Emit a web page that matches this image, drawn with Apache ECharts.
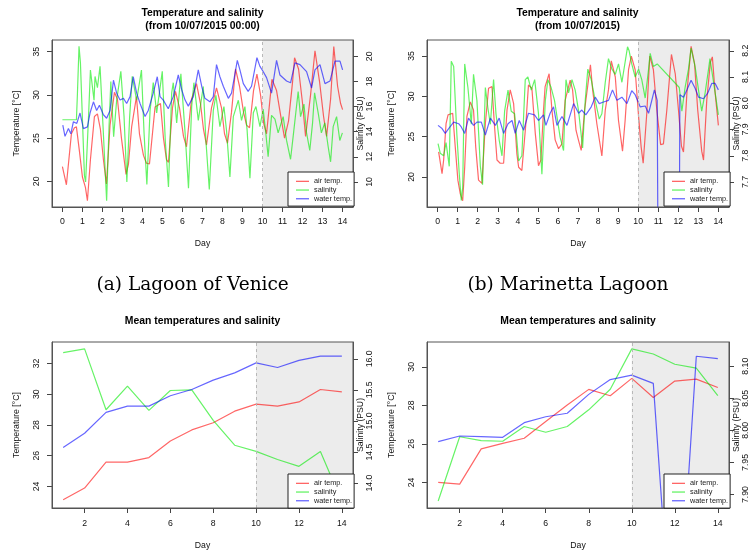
<!DOCTYPE html>
<html><head><meta charset="utf-8">
<script src="https://cdn.jsdelivr.net/npm/echarts@6/dist/echarts.min.js"></script>
<style>html,body{margin:0;padding:0;background:#fff}#c{width:753px;height:554px}</style>
</head><body><div id="c"></div>
<script>
// ---------- data ----------
const seriesNames = ['air temp.', 'salinity', 'water temp.'];
const topDayTicks = [0,1,2,3,4,5,6,7,8,9,10,11,12,13,14];
const bottomDayTicks = [2,4,6,8,10,12,14];
const veniceTempTicks = [20,25,30,35];
const veniceSalTicks = [10,12,14,16,18,20];
const marTempTicks = [20,25,30,35];
const marSalTicks = [7.7,7.8,7.9,8.0,8.1,8.2];
const venMeanTempTicks = [24,26,28,30,32];
const venMeanSalTicks = [14.0,14.5,15.0,15.5,16.0];
const marMeanTempTicks = [24,26,28,30];
const marMeanSalTicks = [7.90,7.95,8.00,8.05,8.10];
const meanDays = [1,2,3,4,5,6,7,8,9,10,11,12,13,14];

// (a) Lagoon of Venice, [day, value]
const veniceAir = [[0.0,21.7],[0.2,19.6],[0.45,25.5],[0.6,26.2],[0.7,26.3],[0.85,23.5],[1.0,20.5],[1.15,19.3],[1.25,17.75],[1.4,22.5],[1.6,27.5],[1.75,27.8],[1.9,26],[2.05,22.5],[2.2,19.7],[2.38,26.5],[2.6,30.3],[2.75,29.5],[2.95,25],[3.18,20.8],[3.3,22],[3.46,26.3],[3.7,29.8],[3.85,25.5],[4.05,23],[4.2,22.1],[4.35,22],[4.63,28.6],[4.9,29],[5.05,25],[5.2,22.5],[5.3,22.2],[5.5,28.5],[5.65,30.4],[5.85,28.5],[6.05,25.2],[6.2,24],[6.45,29.5],[6.7,31.3],[6.9,29],[7.05,26],[7.2,24.2],[7.45,28.5],[7.7,30.8],[7.95,28.5],[8.1,25.5],[8.25,24.4],[8.45,28],[8.65,33],[8.85,31],[9.05,28],[9.2,26.5],[9.35,26.2],[9.55,30.5],[9.72,32.4],[9.9,30],[10.05,26.8],[10.2,25.5],[10.33,28.5],[10.47,31.8],[10.7,30.5],[10.95,27],[11.1,25],[11.3,27],[11.5,31.5],[11.6,34.3],[11.8,33],[12.0,29],[12.15,25.2],[12.4,30],[12.62,35.1],[12.85,31.5],[13.05,27.5],[13.2,25.2],[13.4,29.5],[13.56,35.6],[13.75,31],[13.9,29],[14.0,28.3]];
const veniceSal = [[0,14.95],[0.7,14.95],[0.75,17],[0.83,20.8],[0.9,19.5],[1.0,15],[1.1,10.5],[1.16,10.0],[1.3,15],[1.4,18.9],[1.46,19.0],[1.58,16.5],[1.63,18.4],[1.75,17.5],[1.88,19.2],[2.04,14.1],[2.21,8.5],[2.33,14.4],[2.42,18.0],[2.56,13.6],[2.71,16.5],[2.92,18.8],[3.08,15.2],[3.22,10.0],[3.36,15.2],[3.49,18.4],[3.71,16.5],[3.95,18.9],[4.08,13.9],[4.22,9.8],[4.38,15.7],[4.54,17.9],[4.71,15.5],[4.99,18.8],[5.14,13.3],[5.3,9.6],[5.46,17.1],[5.54,17.9],[5.71,14.7],[5.92,18.6],[6.13,13.9],[6.3,9.5],[6.46,16.0],[6.57,17.9],[6.79,14.9],[7.04,17.6],[7.17,13.3],[7.34,9.4],[7.54,15.7],[7.67,16.9],[7.87,14.4],[8.07,16.0],[8.2,14.1],[8.37,10.4],[8.54,15.2],[8.79,16.5],[8.95,14.9],[9.12,16.0],[9.23,14.1],[9.37,10.3],[9.54,15.5],[9.67,16.0],[9.87,14.4],[10.03,15.8],[10.15,14.1],[10.28,12.0],[10.45,15.3],[10.62,15.0],[10.78,13.9],[11.03,15.2],[11.2,13.3],[11.4,11.8],[11.55,13.9],[11.78,17.2],[11.9,15.2],[12.07,16.2],[12.2,13.9],[12.36,12.5],[12.5,14.7],[12.6,17.1],[12.78,15.5],[12.94,13.9],[13.11,14.7],[13.28,12.8],[13.4,11.6],[13.53,14.4],[13.7,15.2],[13.86,13.3],[13.99,13.9]];
const veniceWater = [[0.02,26.5],[0.13,25.2],[0.3,26.1],[0.42,25.5],[0.55,26.9],[0.72,26.7],[0.88,27.9],[1.05,26.1],[1.25,26.3],[1.38,27.9],[1.55,29.2],[1.71,28.2],[1.85,28.8],[2.05,27.7],[2.21,27.3],[2.38,28.2],[2.55,31.7],[2.71,30.2],[2.88,29.4],[3.05,29.6],[3.21,29.0],[3.38,29.8],[3.54,32.1],[3.71,30.2],[3.88,29.0],[4.13,27.5],[4.29,28.2],[4.54,30.2],[4.74,32.1],[4.88,29.8],[5.04,29.4],[5.29,28.4],[5.54,29.8],[5.79,32.3],[5.96,30.6],[6.13,29.4],[6.29,28.7],[6.54,29.8],[6.79,32.9],[6.96,31.0],[7.12,29.6],[7.37,29.2],[7.54,29.8],[7.7,33.5],[7.87,32.1],[8.04,31.0],[8.29,29.6],[8.45,30.2],[8.74,34.0],[8.87,32.9],[9.04,31.3],[9.28,30.4],[9.45,31.0],[9.72,34.3],[9.87,33.3],[10.03,32.7],[10.2,32.0],[10.45,30.2],[10.7,34.0],[10.87,32.3],[11.2,31.6],[11.4,31.4],[11.62,33.7],[11.87,33.5],[12.2,32.7],[12.45,30.8],[12.62,32.9],[12.87,33.5],[13.12,31.3],[13.37,31.6],[13.62,33.9],[13.87,33.9],[14.0,32.9]];

// (b) Marinetta Lagoon, [day, value]
const marAir = [[0.05,23.1],[0.22,20.4],[0.3,22.1],[0.42,26.6],[0.52,27.7],[0.75,27.9],[0.88,23.7],[1.01,19.6],[1.13,17.9],[1.25,17.05],[1.35,21.2],[1.46,27.5],[1.63,29.3],[1.79,28.3],[1.9,23.7],[2.04,19.6],[2.21,19.2],[2.38,26.6],[2.54,31.0],[2.71,31.2],[2.84,26.2],[2.96,22.1],[3.12,21.7],[3.29,21.7],[3.46,28.3],[3.62,30.8],[3.79,29.1],[3.95,22.9],[4.04,21.2],[4.2,20.8],[4.4,26.6],[4.53,31.4],[4.7,31.0],[4.87,25.4],[5.03,21.4],[5.15,22.1],[5.28,28.3],[5.36,31.2],[5.56,32.8],[5.7,28.3],[5.86,24.6],[6.03,23.5],[6.2,24.1],[6.36,29.5],[6.61,32.0],[6.73,30.8],[6.9,25.8],[7.02,24.6],[7.16,23.3],[7.33,28.3],[7.62,33.9],[7.73,30.8],[7.94,26.6],[8.19,22.6],[8.36,28.3],[8.52,30.8],[8.66,34.4],[8.86,32.4],[9.02,27.0],[9.22,23.2],[9.35,27.0],[9.52,33.3],[9.66,35.0],[9.85,33.3],[10.02,27.5],[10.15,23.7],[10.25,21.7],[10.43,27.9],[10.58,35.0],[10.76,33.3],[10.93,28.3],[11.12,24.0],[11.26,24.1],[11.43,28.3],[11.66,35.2],[11.85,32.8],[12.01,28.3],[12.16,23.8],[12.26,23.1],[12.43,30.4],[12.64,36.2],[12.81,34.1],[12.97,28.3],[13.17,23.2],[13.26,22.1],[13.42,29.5],[13.6,34.2],[13.7,34.9],[13.84,30.4],[14.0,26.4]];
const marSal = [[0.02,7.846],[0.13,7.81],[0.3,7.80],[0.42,7.85],[0.58,7.76],[0.68,8.16],[0.8,8.14],[0.96,7.88],[1.08,7.73],[1.18,7.63],[1.25,7.68],[1.35,8.15],[1.51,8.06],[1.68,7.92],[1.79,8.11],[1.96,8.01],[2.13,7.76],[2.24,7.69],[2.38,8.06],[2.51,7.98],[2.63,7.92],[2.79,8.09],[2.91,7.96],[3.07,7.86],[3.21,7.80],[3.34,7.97],[3.51,8.05],[3.67,7.97],[3.84,7.96],[4.04,7.78],[4.2,7.80],[4.37,8.09],[4.5,8.1],[4.67,8.05],[4.84,8.09],[5.03,7.96],[5.2,7.73],[5.37,8.01],[5.5,8.09],[5.66,8.06],[5.83,8.01],[5.95,7.95],[6.11,7.87],[6.28,7.82],[6.4,8.09],[6.53,8.04],[6.7,8.09],[6.86,8.05],[7.03,7.97],[7.23,7.83],[7.36,8.01],[7.49,8.13],[7.66,8.09],[7.86,8.01],[8.06,7.94],[8.19,7.96],[8.36,8.08],[8.52,8.17],[8.69,8.13],[8.86,8.11],[9.02,8.15],[9.19,8.08],[9.47,8.215],[9.55,8.2],[9.68,8.15],[9.85,8.1],[10.02,8.13],[10.18,8.09],[10.35,8.02],[10.52,8.13],[10.6,8.19],[10.76,8.14],[10.95,8.15],[12.05,8.06],[12.18,7.97],[12.34,8.06],[12.51,8.13],[12.64,8.21],[12.84,8.14],[13.01,8.05],[13.17,7.97],[13.34,8.04],[13.51,8.13],[13.58,8.17],[13.84,8.04],[14.0,7.956]];
const marWater = [[0.02,26.4],[0.22,26.0],[0.38,25.4],[0.55,26.0],[0.8,26.8],[1.05,26.6],[1.18,26.2],[1.35,25.4],[1.54,27.3],[1.79,26.4],[1.96,26.8],[2.18,26.8],[2.38,25.2],[2.63,27.3],[2.88,26.4],[3.07,27.3],[3.29,25.4],[3.51,26.6],[3.71,27.0],[3.87,25.4],[4.07,27.0],[4.29,25.8],[4.53,27.9],[4.83,27.7],[5.03,27.0],[5.28,27.7],[5.4,26.4],[5.61,27.9],[5.78,28.7],[5.95,26.4],[6.2,27.5],[6.45,26.4],[6.78,29.1],[7.03,27.9],[7.19,28.3],[7.39,27.7],[7.66,28.7],[7.86,29.9],[8.06,29.1],[8.27,29.3],[8.52,29.5],[8.72,30.8],[8.94,29.5],[9.19,29.9],[9.44,29.1],[9.68,30.7],[9.85,30.2],[10.1,28.7],[10.35,28.8],[10.52,27.9],[10.81,30.8],[10.95,29.5],[11.0,5],[12.04,5],[12.08,30.2],[12.26,29.9],[12.43,30.8],[12.64,32.0],[12.84,31.0],[13.01,29.9],[13.26,29.7],[13.47,30.4],[13.67,31.6],[13.84,31.6],[14.0,30.8]];

// (c) mean values, Lagoon of Venice
const venMeanAir = [23.14,23.9,25.58,25.58,25.88,26.96,27.68,28.15,28.9,29.36,29.23,29.5,30.31,30.16];
const venMeanWater = [26.53,27.46,28.82,29.23,29.23,29.9,30.31,30.92,31.39,32.04,31.74,32.2,32.48,32.48];
const venMeanSal = [16.1,16.16,15.18,15.56,15.17,15.49,15.5,15.01,14.61,14.51,14.38,14.27,14.51,13.7];
// (d) mean values, Marinetta Lagoon
const marMeanAir = [24.0,23.91,25.74,26.03,26.29,27.16,28.02,28.83,28.5,29.4,28.41,29.26,29.36,28.93];
const marMeanWater = [26.12,26.41,26.38,26.34,27.1,27.41,27.59,28.57,29.34,29.57,29.14,13.3,30.55,30.43];
const marMeanSal = [7.89,7.99,7.984,7.983,8.006,7.997,8.006,8.032,8.064,8.127,8.119,8.103,8.097,8.054];

// ---------- chart ----------
const FONT = '"Liberation Sans", Arial, Helvetica, sans-serif';
const COLORS = ['rgba(255,0,0,0.6)', 'rgba(0,235,0,0.6)', 'rgba(0,0,255,0.6)'];
const TXT = '#111';

const panels = [
  {grid:{left:52, top:40, width:301, height:167}, x:[-0.52,14.52], xt:topDayTicks, xm:10, ng:32,
   yl:[17.03,36.35], ylt:veniceTempTicks, yld:null, yr:[8.0,21.3], yrt:veniceSalTicks, yrd:null,
   data:[veniceAir, veniceSal, veniceWater], legTop:172},
  {grid:{left:427, top:40, width:302, height:167}, x:[-0.53,14.53], xt:topDayTicks, xm:10, ng:32,
   yl:[16.27,36.99], ylt:marTempTicks, yld:null, yr:[7.605,8.241], yrt:marSalTicks, yrd:1,
   data:[marAir, marSal, marWater], legTop:172},
  {grid:{left:52, top:342, width:301, height:166}, x:[0.48,14.52], xt:bottomDayTicks, xm:11.5, ng:33,
   yl:[22.6,33.4], ylt:venMeanTempTicks, yld:null, yr:[13.6,16.27], yrt:venMeanSalTicks, yrd:1,
   data:[meanDays.map((d,i)=>[d,venMeanAir[i]]), meanDays.map((d,i)=>[d,venMeanSal[i]]), meanDays.map((d,i)=>[d,venMeanWater[i]])], legTop:474},
  {grid:{left:427, top:342, width:302, height:166}, x:[0.48,14.52], xt:bottomDayTicks, xm:11.5, ng:33,
   yl:[22.67,31.29], ylt:marMeanTempTicks, yld:null, yr:[7.879,8.1377], yrt:marMeanSalTicks, yrd:2,
   data:[meanDays.map((d,i)=>[d,marMeanAir[i]]), meanDays.map((d,i)=>[d,marMeanSal[i]]), meanDays.map((d,i)=>[d,marMeanWater[i]])], legTop:474}
];

const grid = [], xAxis = [], yAxis = [], series = [], legend = [];
const nameStyle = {fontSize:8.7, color:TXT, fontFamily:FONT};
const tickStyle = {color:'#444', width:1};

panels.forEach((p, g) => {
  grid.push(Object.assign({show:true, borderColor:'#555', borderWidth:1, backgroundColor:'transparent', z:10}, p.grid));
  xAxis.push({gridIndex:g, type:'value', min:p.x[0], max:p.x[1],
    axisLine:{show:true, onZero:false, lineStyle:{color:'#555', width:1}},
    axisTick:{show:true, inside:false, customValues:p.xt, length:5, lineStyle:tickStyle},
    axisLabel:{customValues:p.xt, margin:p.xm, fontSize:8.7, color:TXT, fontFamily:FONT},
    splitLine:{show:false},
    name:'Day', nameLocation:'middle', nameGap:p.ng, nameMoveOverlap:false, nameTextStyle:nameStyle});
  const mkY = (pos, rng, ticks, dec, name, margin, gap) => ({
    gridIndex:g, type:'value', position:pos, min:rng[0], max:rng[1],
    axisLine:{show:true, onZero:false, lineStyle:{color:'#555', width:1}},
    axisTick:{show:true, inside:false, customValues:ticks, length:5, lineStyle:tickStyle},
    axisLabel:{customValues:ticks, rotate:90, margin:margin, fontSize:8.7, color:TXT, fontFamily:FONT,
      formatter: v => dec == null ? String(Math.round(v*1000)/1000) : Number(v).toFixed(dec)},
    splitLine:{show:false},
    name:name, nameLocation:'middle', nameGap:gap, nameRotate:90, nameMoveOverlap:false, nameTextStyle:nameStyle});
  yAxis.push(mkY('left', p.yl, p.ylt, p.yld, 'Temperature [°C]', 10.5, 30.5));
  yAxis.push(mkY('right', p.yr, p.yrt, p.yrd, 'Salinity (PSU)', 12.5, 3));
  const yl = g*2, yr = g*2+1;
  // shaded period (days 10 to end) and dashed separator
  series.push({type:'line', name:'shade'+g, xAxisIndex:g, yAxisIndex:yl, data:[], z:1, silent:true,
    markArea:{silent:true, itemStyle:{color:'#ececec'}, data:[[{xAxis:10},{xAxis:p.x[1]}]]},
    markLine:{silent:true, symbol:['none','none'], label:{show:false},
      lineStyle:{color:'#b8b8b8', type:[3,3], width:1}, data:[{xAxis:10}]}});
  const axesIdx = [yl, yr, yl];
  seriesNames.forEach((n, k) => {
    series.push({type:'line', name:n, xAxisIndex:g, yAxisIndex:axesIdx[k], data:p.data[k],
      showSymbol:false, symbol:'none', color:COLORS[k], lineStyle:{width:1.2, color:COLORS[k]},
      z:3, silent:true, clip:true});
  });
  legend.push({left:p.grid.left + p.grid.width - 65, top:p.legTop, orient:'vertical', data:seriesNames,
    icon:'rect', itemWidth:13, itemHeight:1.3, itemGap:0, padding:[5,2,3,8],
    borderColor:'#222', borderWidth:1, backgroundColor:'#fff', borderRadius:0,
    textStyle:{fontSize:7.3, lineHeight:8.7, color:'#222', fontFamily:FONT},
    selectedMode:false, z:20});
});

const txt = (x, y, text, font) => ({type:'text', x, y, z:30, silent:true,
  style:{text, font, fill:'#000', align:'center', verticalAlign:'middle'}});
const TF = 'bold 10.4px ' + FONT;
const CF = '18.5px "DejaVu Serif", serif';
const graphic = [
  txt(202.5, 13.3, 'Temperature and salinity', TF),
  txt(202.5, 25.7, '(from 10/07/2015 00:00)', TF),
  txt(577.5, 13.3, 'Temperature and salinity', TF),
  txt(577.5, 25.7, '(from 10/07/2015)', TF),
  txt(202.5, 320.7, 'Mean temperatures and salinity', TF),
  txt(578, 321, 'Mean temperatures and salinity', TF),
  txt(192.7, 285, '(a) Lagoon of Venice', CF),
  txt(568, 285, '(b) Marinetta Lagoon', CF)
];

const chart = echarts.init(document.getElementById('c'), null, {renderer:'canvas'});
chart.setOption({animation:false, backgroundColor:'#fff', textStyle:{fontFamily:FONT},
  grid, xAxis, yAxis, series, legend, graphic});
</script></body></html>
